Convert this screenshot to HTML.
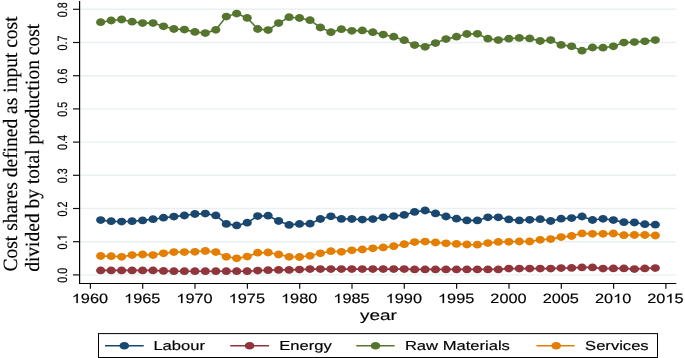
<!DOCTYPE html>
<html><head><meta charset="utf-8"><style>
html,body{margin:0;padding:0;background:#fff;}
svg{display:block;will-change:transform;text-rendering:geometricPrecision;}
.t{font-family:"Liberation Sans",sans-serif;fill:#000;}
.s{font-family:"Liberation Serif",serif;fill:#000;}
.h1{fill:none;stroke:none;}
</style></head><body>
<svg width="685" height="358" viewBox="0 0 685 358">
<rect width="685" height="358" fill="#fff"/>
<line x1="80.5" x2="676.3" y1="274.9" y2="274.9" stroke="#eaf0f2" stroke-width="1.4"/>
<line x1="80.5" x2="676.3" y1="241.7" y2="241.7" stroke="#eaf0f2" stroke-width="1.4"/>
<line x1="80.5" x2="676.3" y1="208.5" y2="208.5" stroke="#eaf0f2" stroke-width="1.4"/>
<line x1="80.5" x2="676.3" y1="175.3" y2="175.3" stroke="#eaf0f2" stroke-width="1.4"/>
<line x1="80.5" x2="676.3" y1="142.1" y2="142.1" stroke="#eaf0f2" stroke-width="1.4"/>
<line x1="80.5" x2="676.3" y1="108.9" y2="108.9" stroke="#eaf0f2" stroke-width="1.4"/>
<line x1="80.5" x2="676.3" y1="75.7" y2="75.7" stroke="#eaf0f2" stroke-width="1.4"/>
<line x1="80.5" x2="676.3" y1="42.5" y2="42.5" stroke="#eaf0f2" stroke-width="1.4"/>
<line x1="80.5" x2="676.3" y1="9.3" y2="9.3" stroke="#eaf0f2" stroke-width="1.4"/>
<line x1="79.6" x2="79.6" y1="1" y2="284.1" stroke="#000" stroke-width="1.2"/>
<line x1="79.0" x2="676.3" y1="283.5" y2="283.5" stroke="#000" stroke-width="1.2"/>
<line x1="73" x2="79.6" y1="274.9" y2="274.9" stroke="#111" stroke-width="1.2"/>
<text class="t" transform="translate(66.70,275.30) rotate(-90) scale(1.0000,1.2600)" font-size="10.8" text-anchor="middle" stroke="#000" stroke-width="0.15">0.0</text>
<line x1="73" x2="79.6" y1="241.7" y2="241.7" stroke="#111" stroke-width="1.2"/>
<text class="t" transform="translate(66.70,242.10) rotate(-90) scale(1.0000,1.2600)" font-size="10.8" text-anchor="middle" stroke="#000" stroke-width="0.15">0.<tspan class="h1">1</tspan></text><g transform="translate(66.70,242.10) rotate(-90) scale(1.0000,1.2600) scale(0.005273,-0.005273)" stroke="#000" stroke-width="28.4"><path transform="translate(284.5,0)" d="M763 0L583 0L583 1102Q518 1040 412 978Q306 916 223 895L223 1061Q376 1133 491 1235Q606 1337 651 1409L763 1409Z"/></g>
<line x1="73" x2="79.6" y1="208.5" y2="208.5" stroke="#111" stroke-width="1.2"/>
<text class="t" transform="translate(66.70,208.90) rotate(-90) scale(1.0000,1.2600)" font-size="10.8" text-anchor="middle" stroke="#000" stroke-width="0.15">0.2</text>
<line x1="73" x2="79.6" y1="175.3" y2="175.3" stroke="#111" stroke-width="1.2"/>
<text class="t" transform="translate(66.70,175.70) rotate(-90) scale(1.0000,1.2600)" font-size="10.8" text-anchor="middle" stroke="#000" stroke-width="0.15">0.3</text>
<line x1="73" x2="79.6" y1="142.1" y2="142.1" stroke="#111" stroke-width="1.2"/>
<text class="t" transform="translate(66.70,142.50) rotate(-90) scale(1.0000,1.2600)" font-size="10.8" text-anchor="middle" stroke="#000" stroke-width="0.15">0.4</text>
<line x1="73" x2="79.6" y1="108.9" y2="108.9" stroke="#111" stroke-width="1.2"/>
<text class="t" transform="translate(66.70,109.30) rotate(-90) scale(1.0000,1.2600)" font-size="10.8" text-anchor="middle" stroke="#000" stroke-width="0.15">0.5</text>
<line x1="73" x2="79.6" y1="75.7" y2="75.7" stroke="#111" stroke-width="1.2"/>
<text class="t" transform="translate(66.70,76.10) rotate(-90) scale(1.0000,1.2600)" font-size="10.8" text-anchor="middle" stroke="#000" stroke-width="0.15">0.6</text>
<line x1="73" x2="79.6" y1="42.5" y2="42.5" stroke="#111" stroke-width="1.2"/>
<text class="t" transform="translate(66.70,42.90) rotate(-90) scale(1.0000,1.2600)" font-size="10.8" text-anchor="middle" stroke="#000" stroke-width="0.15">0.7</text>
<line x1="73" x2="79.6" y1="9.3" y2="9.3" stroke="#111" stroke-width="1.2"/>
<text class="t" transform="translate(66.70,9.70) rotate(-90) scale(1.0000,1.2600)" font-size="10.8" text-anchor="middle" stroke="#000" stroke-width="0.15">0.8</text>
<line x1="90.4" x2="90.4" y1="283.5" y2="288.7" stroke="#111" stroke-width="1.2"/>
<text class="t" transform="translate(89.90,303.10) scale(1.2000,1.0000)" font-size="13.6" text-anchor="middle" stroke="#000" stroke-width="0.15"><tspan class="h1">1</tspan>960</text><g transform="translate(89.90,303.10) scale(1.2000,1.0000) scale(0.006641,-0.006641)" stroke="#000" stroke-width="22.6"><path transform="translate(-2278.0,0)" d="M763 0L583 0L583 1102Q518 1040 412 978Q306 916 223 895L223 1061Q376 1133 491 1235Q606 1337 651 1409L763 1409Z"/></g>
<line x1="142.7" x2="142.7" y1="283.5" y2="288.7" stroke="#111" stroke-width="1.2"/>
<text class="t" transform="translate(142.22,303.10) scale(1.2000,1.0000)" font-size="13.6" text-anchor="middle" stroke="#000" stroke-width="0.15"><tspan class="h1">1</tspan>965</text><g transform="translate(142.22,303.10) scale(1.2000,1.0000) scale(0.006641,-0.006641)" stroke="#000" stroke-width="22.6"><path transform="translate(-2278.0,0)" d="M763 0L583 0L583 1102Q518 1040 412 978Q306 916 223 895L223 1061Q376 1133 491 1235Q606 1337 651 1409L763 1409Z"/></g>
<line x1="195.0" x2="195.0" y1="283.5" y2="288.7" stroke="#111" stroke-width="1.2"/>
<text class="t" transform="translate(194.54,303.10) scale(1.2000,1.0000)" font-size="13.6" text-anchor="middle" stroke="#000" stroke-width="0.15"><tspan class="h1">1</tspan>970</text><g transform="translate(194.54,303.10) scale(1.2000,1.0000) scale(0.006641,-0.006641)" stroke="#000" stroke-width="22.6"><path transform="translate(-2278.0,0)" d="M763 0L583 0L583 1102Q518 1040 412 978Q306 916 223 895L223 1061Q376 1133 491 1235Q606 1337 651 1409L763 1409Z"/></g>
<line x1="247.4" x2="247.4" y1="283.5" y2="288.7" stroke="#111" stroke-width="1.2"/>
<text class="t" transform="translate(246.86,303.10) scale(1.2000,1.0000)" font-size="13.6" text-anchor="middle" stroke="#000" stroke-width="0.15"><tspan class="h1">1</tspan>975</text><g transform="translate(246.86,303.10) scale(1.2000,1.0000) scale(0.006641,-0.006641)" stroke="#000" stroke-width="22.6"><path transform="translate(-2278.0,0)" d="M763 0L583 0L583 1102Q518 1040 412 978Q306 916 223 895L223 1061Q376 1133 491 1235Q606 1337 651 1409L763 1409Z"/></g>
<line x1="299.7" x2="299.7" y1="283.5" y2="288.7" stroke="#111" stroke-width="1.2"/>
<text class="t" transform="translate(299.18,303.10) scale(1.2000,1.0000)" font-size="13.6" text-anchor="middle" stroke="#000" stroke-width="0.15"><tspan class="h1">1</tspan>980</text><g transform="translate(299.18,303.10) scale(1.2000,1.0000) scale(0.006641,-0.006641)" stroke="#000" stroke-width="22.6"><path transform="translate(-2278.0,0)" d="M763 0L583 0L583 1102Q518 1040 412 978Q306 916 223 895L223 1061Q376 1133 491 1235Q606 1337 651 1409L763 1409Z"/></g>
<line x1="352.0" x2="352.0" y1="283.5" y2="288.7" stroke="#111" stroke-width="1.2"/>
<text class="t" transform="translate(351.50,303.10) scale(1.2000,1.0000)" font-size="13.6" text-anchor="middle" stroke="#000" stroke-width="0.15"><tspan class="h1">1</tspan>985</text><g transform="translate(351.50,303.10) scale(1.2000,1.0000) scale(0.006641,-0.006641)" stroke="#000" stroke-width="22.6"><path transform="translate(-2278.0,0)" d="M763 0L583 0L583 1102Q518 1040 412 978Q306 916 223 895L223 1061Q376 1133 491 1235Q606 1337 651 1409L763 1409Z"/></g>
<line x1="404.3" x2="404.3" y1="283.5" y2="288.7" stroke="#111" stroke-width="1.2"/>
<text class="t" transform="translate(403.82,303.10) scale(1.2000,1.0000)" font-size="13.6" text-anchor="middle" stroke="#000" stroke-width="0.15"><tspan class="h1">1</tspan>990</text><g transform="translate(403.82,303.10) scale(1.2000,1.0000) scale(0.006641,-0.006641)" stroke="#000" stroke-width="22.6"><path transform="translate(-2278.0,0)" d="M763 0L583 0L583 1102Q518 1040 412 978Q306 916 223 895L223 1061Q376 1133 491 1235Q606 1337 651 1409L763 1409Z"/></g>
<line x1="456.6" x2="456.6" y1="283.5" y2="288.7" stroke="#111" stroke-width="1.2"/>
<text class="t" transform="translate(456.14,303.10) scale(1.2000,1.0000)" font-size="13.6" text-anchor="middle" stroke="#000" stroke-width="0.15"><tspan class="h1">1</tspan>995</text><g transform="translate(456.14,303.10) scale(1.2000,1.0000) scale(0.006641,-0.006641)" stroke="#000" stroke-width="22.6"><path transform="translate(-2278.0,0)" d="M763 0L583 0L583 1102Q518 1040 412 978Q306 916 223 895L223 1061Q376 1133 491 1235Q606 1337 651 1409L763 1409Z"/></g>
<line x1="509.0" x2="509.0" y1="283.5" y2="288.7" stroke="#111" stroke-width="1.2"/>
<text class="t" transform="translate(508.46,303.10) scale(1.2000,1.0000)" font-size="13.6" text-anchor="middle" stroke="#000" stroke-width="0.15">2000</text>
<line x1="561.3" x2="561.3" y1="283.5" y2="288.7" stroke="#111" stroke-width="1.2"/>
<text class="t" transform="translate(560.78,303.10) scale(1.2000,1.0000)" font-size="13.6" text-anchor="middle" stroke="#000" stroke-width="0.15">2005</text>
<line x1="613.6" x2="613.6" y1="283.5" y2="288.7" stroke="#111" stroke-width="1.2"/>
<text class="t" transform="translate(613.10,303.10) scale(1.2000,1.0000)" font-size="13.6" text-anchor="middle" stroke="#000" stroke-width="0.15">20<tspan class="h1">1</tspan>0</text><g transform="translate(613.10,303.10) scale(1.2000,1.0000) scale(0.006641,-0.006641)" stroke="#000" stroke-width="22.6"><path transform="translate(0.0,0)" d="M763 0L583 0L583 1102Q518 1040 412 978Q306 916 223 895L223 1061Q376 1133 491 1235Q606 1337 651 1409L763 1409Z"/></g>
<line x1="665.9" x2="665.9" y1="283.5" y2="288.7" stroke="#111" stroke-width="1.2"/>
<text class="t" transform="translate(665.42,303.10) scale(1.2000,1.0000)" font-size="13.6" text-anchor="middle" stroke="#000" stroke-width="0.15">20<tspan class="h1">1</tspan>5</text><g transform="translate(665.42,303.10) scale(1.2000,1.0000) scale(0.006641,-0.006641)" stroke="#000" stroke-width="22.6"><path transform="translate(0.0,0)" d="M763 0L583 0L583 1102Q518 1040 412 978Q306 916 223 895L223 1061Q376 1133 491 1235Q606 1337 651 1409L763 1409Z"/></g>
<text class="t" transform="translate(378.40,319.80) scale(1.3370,1.0000)" font-size="14.2" text-anchor="middle" stroke="#000" stroke-width="0.15">year</text>
<text class="s" transform="translate(17.00,271.50) rotate(-90) scale(1.0000,1.0400)" font-size="19.5" stroke="#000" stroke-width="0.15">Cost shares defined as input cost</text>
<text class="s" transform="translate(38.70,271.80) rotate(-90) scale(1.0000,1.0400)" font-size="19.5" stroke="#000" stroke-width="0.15">divided by total production cost</text>
<polyline points="100.7,270.4 111.2,270.4 121.6,270.4 132.1,270.4 142.6,270.4 153.0,270.4 163.5,270.9 173.9,271.2 184.4,271.2 194.9,271.2 205.3,271.2 215.8,271.2 226.3,271.2 236.7,271.2 247.2,271.2 257.7,270.6 268.1,270.2 278.6,269.9 289.1,269.9 299.5,269.6 310.0,269.1 320.4,269.1 330.9,269.1 341.4,269.1 351.8,269.1 362.3,269.1 372.8,269.1 383.2,269.1 393.7,269.1 404.2,269.1 414.6,269.4 425.1,269.4 435.5,269.4 446.0,269.4 456.5,269.4 466.9,269.4 477.4,269.4 487.9,269.4 498.3,269.4 508.8,268.6 519.3,268.6 529.7,268.6 540.2,268.6 550.7,268.6 561.1,268.1 571.6,267.9 582.0,267.4 592.5,267.4 603.0,268.6 613.4,268.4 623.9,268.4 634.4,269.1 644.8,268.4 655.3,268.1" fill="none" stroke="#90353b" stroke-width="1.6"/>
<g fill="#90353b"><ellipse cx="100.7" cy="270.4" rx="4.6" ry="3.9"/><ellipse cx="111.2" cy="270.4" rx="4.6" ry="3.9"/><ellipse cx="121.6" cy="270.4" rx="4.6" ry="3.9"/><ellipse cx="132.1" cy="270.4" rx="4.6" ry="3.9"/><ellipse cx="142.6" cy="270.4" rx="4.6" ry="3.9"/><ellipse cx="153.0" cy="270.4" rx="4.6" ry="3.9"/><ellipse cx="163.5" cy="270.9" rx="4.6" ry="3.9"/><ellipse cx="173.9" cy="271.2" rx="4.6" ry="3.9"/><ellipse cx="184.4" cy="271.2" rx="4.6" ry="3.9"/><ellipse cx="194.9" cy="271.2" rx="4.6" ry="3.9"/><ellipse cx="205.3" cy="271.2" rx="4.6" ry="3.9"/><ellipse cx="215.8" cy="271.2" rx="4.6" ry="3.9"/><ellipse cx="226.3" cy="271.2" rx="4.6" ry="3.9"/><ellipse cx="236.7" cy="271.2" rx="4.6" ry="3.9"/><ellipse cx="247.2" cy="271.2" rx="4.6" ry="3.9"/><ellipse cx="257.7" cy="270.6" rx="4.6" ry="3.9"/><ellipse cx="268.1" cy="270.2" rx="4.6" ry="3.9"/><ellipse cx="278.6" cy="269.9" rx="4.6" ry="3.9"/><ellipse cx="289.1" cy="269.9" rx="4.6" ry="3.9"/><ellipse cx="299.5" cy="269.6" rx="4.6" ry="3.9"/><ellipse cx="310.0" cy="269.1" rx="4.6" ry="3.9"/><ellipse cx="320.4" cy="269.1" rx="4.6" ry="3.9"/><ellipse cx="330.9" cy="269.1" rx="4.6" ry="3.9"/><ellipse cx="341.4" cy="269.1" rx="4.6" ry="3.9"/><ellipse cx="351.8" cy="269.1" rx="4.6" ry="3.9"/><ellipse cx="362.3" cy="269.1" rx="4.6" ry="3.9"/><ellipse cx="372.8" cy="269.1" rx="4.6" ry="3.9"/><ellipse cx="383.2" cy="269.1" rx="4.6" ry="3.9"/><ellipse cx="393.7" cy="269.1" rx="4.6" ry="3.9"/><ellipse cx="404.2" cy="269.1" rx="4.6" ry="3.9"/><ellipse cx="414.6" cy="269.4" rx="4.6" ry="3.9"/><ellipse cx="425.1" cy="269.4" rx="4.6" ry="3.9"/><ellipse cx="435.5" cy="269.4" rx="4.6" ry="3.9"/><ellipse cx="446.0" cy="269.4" rx="4.6" ry="3.9"/><ellipse cx="456.5" cy="269.4" rx="4.6" ry="3.9"/><ellipse cx="466.9" cy="269.4" rx="4.6" ry="3.9"/><ellipse cx="477.4" cy="269.4" rx="4.6" ry="3.9"/><ellipse cx="487.9" cy="269.4" rx="4.6" ry="3.9"/><ellipse cx="498.3" cy="269.4" rx="4.6" ry="3.9"/><ellipse cx="508.8" cy="268.6" rx="4.6" ry="3.9"/><ellipse cx="519.3" cy="268.6" rx="4.6" ry="3.9"/><ellipse cx="529.7" cy="268.6" rx="4.6" ry="3.9"/><ellipse cx="540.2" cy="268.6" rx="4.6" ry="3.9"/><ellipse cx="550.7" cy="268.6" rx="4.6" ry="3.9"/><ellipse cx="561.1" cy="268.1" rx="4.6" ry="3.9"/><ellipse cx="571.6" cy="267.9" rx="4.6" ry="3.9"/><ellipse cx="582.0" cy="267.4" rx="4.6" ry="3.9"/><ellipse cx="592.5" cy="267.4" rx="4.6" ry="3.9"/><ellipse cx="603.0" cy="268.6" rx="4.6" ry="3.9"/><ellipse cx="613.4" cy="268.4" rx="4.6" ry="3.9"/><ellipse cx="623.9" cy="268.4" rx="4.6" ry="3.9"/><ellipse cx="634.4" cy="269.1" rx="4.6" ry="3.9"/><ellipse cx="644.8" cy="268.4" rx="4.6" ry="3.9"/><ellipse cx="655.3" cy="268.1" rx="4.6" ry="3.9"/></g>

<polyline points="100.7,256.0 111.2,256.2 121.6,256.8 132.1,255.1 142.6,254.5 153.0,255.1 163.5,253.3 173.9,252.1 184.4,252.1 194.9,251.8 205.3,251.0 215.8,252.1 226.3,256.8 236.7,258.3 247.2,256.6 257.7,252.7 268.1,252.5 278.6,254.5 289.1,256.8 299.5,257.0 310.0,255.8 320.4,253.3 330.9,251.2 341.4,251.8 351.8,250.3 362.3,249.5 372.8,248.3 383.2,247.4 393.7,246.2 404.2,244.2 414.6,242.1 425.1,241.6 435.5,242.5 446.0,243.3 456.5,243.9 466.9,244.5 477.4,244.7 487.9,243.1 498.3,241.9 508.8,241.8 519.3,241.5 529.7,241.5 540.2,239.8 550.7,239.1 561.1,237.1 571.6,236.0 582.0,233.4 592.5,233.8 603.0,233.8 613.4,233.5 623.9,235.2 634.4,235.0 644.8,235.0 655.3,235.5" fill="none" stroke="#e37e00" stroke-width="1.6"/>
<g fill="#e37e00"><ellipse cx="100.7" cy="256.0" rx="4.6" ry="3.9"/><ellipse cx="111.2" cy="256.2" rx="4.6" ry="3.9"/><ellipse cx="121.6" cy="256.8" rx="4.6" ry="3.9"/><ellipse cx="132.1" cy="255.1" rx="4.6" ry="3.9"/><ellipse cx="142.6" cy="254.5" rx="4.6" ry="3.9"/><ellipse cx="153.0" cy="255.1" rx="4.6" ry="3.9"/><ellipse cx="163.5" cy="253.3" rx="4.6" ry="3.9"/><ellipse cx="173.9" cy="252.1" rx="4.6" ry="3.9"/><ellipse cx="184.4" cy="252.1" rx="4.6" ry="3.9"/><ellipse cx="194.9" cy="251.8" rx="4.6" ry="3.9"/><ellipse cx="205.3" cy="251.0" rx="4.6" ry="3.9"/><ellipse cx="215.8" cy="252.1" rx="4.6" ry="3.9"/><ellipse cx="226.3" cy="256.8" rx="4.6" ry="3.9"/><ellipse cx="236.7" cy="258.3" rx="4.6" ry="3.9"/><ellipse cx="247.2" cy="256.6" rx="4.6" ry="3.9"/><ellipse cx="257.7" cy="252.7" rx="4.6" ry="3.9"/><ellipse cx="268.1" cy="252.5" rx="4.6" ry="3.9"/><ellipse cx="278.6" cy="254.5" rx="4.6" ry="3.9"/><ellipse cx="289.1" cy="256.8" rx="4.6" ry="3.9"/><ellipse cx="299.5" cy="257.0" rx="4.6" ry="3.9"/><ellipse cx="310.0" cy="255.8" rx="4.6" ry="3.9"/><ellipse cx="320.4" cy="253.3" rx="4.6" ry="3.9"/><ellipse cx="330.9" cy="251.2" rx="4.6" ry="3.9"/><ellipse cx="341.4" cy="251.8" rx="4.6" ry="3.9"/><ellipse cx="351.8" cy="250.3" rx="4.6" ry="3.9"/><ellipse cx="362.3" cy="249.5" rx="4.6" ry="3.9"/><ellipse cx="372.8" cy="248.3" rx="4.6" ry="3.9"/><ellipse cx="383.2" cy="247.4" rx="4.6" ry="3.9"/><ellipse cx="393.7" cy="246.2" rx="4.6" ry="3.9"/><ellipse cx="404.2" cy="244.2" rx="4.6" ry="3.9"/><ellipse cx="414.6" cy="242.1" rx="4.6" ry="3.9"/><ellipse cx="425.1" cy="241.6" rx="4.6" ry="3.9"/><ellipse cx="435.5" cy="242.5" rx="4.6" ry="3.9"/><ellipse cx="446.0" cy="243.3" rx="4.6" ry="3.9"/><ellipse cx="456.5" cy="243.9" rx="4.6" ry="3.9"/><ellipse cx="466.9" cy="244.5" rx="4.6" ry="3.9"/><ellipse cx="477.4" cy="244.7" rx="4.6" ry="3.9"/><ellipse cx="487.9" cy="243.1" rx="4.6" ry="3.9"/><ellipse cx="498.3" cy="241.9" rx="4.6" ry="3.9"/><ellipse cx="508.8" cy="241.8" rx="4.6" ry="3.9"/><ellipse cx="519.3" cy="241.5" rx="4.6" ry="3.9"/><ellipse cx="529.7" cy="241.5" rx="4.6" ry="3.9"/><ellipse cx="540.2" cy="239.8" rx="4.6" ry="3.9"/><ellipse cx="550.7" cy="239.1" rx="4.6" ry="3.9"/><ellipse cx="561.1" cy="237.1" rx="4.6" ry="3.9"/><ellipse cx="571.6" cy="236.0" rx="4.6" ry="3.9"/><ellipse cx="582.0" cy="233.4" rx="4.6" ry="3.9"/><ellipse cx="592.5" cy="233.8" rx="4.6" ry="3.9"/><ellipse cx="603.0" cy="233.8" rx="4.6" ry="3.9"/><ellipse cx="613.4" cy="233.5" rx="4.6" ry="3.9"/><ellipse cx="623.9" cy="235.2" rx="4.6" ry="3.9"/><ellipse cx="634.4" cy="235.0" rx="4.6" ry="3.9"/><ellipse cx="644.8" cy="235.0" rx="4.6" ry="3.9"/><ellipse cx="655.3" cy="235.5" rx="4.6" ry="3.9"/></g>

<polyline points="100.7,220.1 111.2,221.2 121.6,221.6 132.1,221.2 142.6,220.4 153.0,219.2 163.5,217.7 173.9,216.6 184.4,215.5 194.9,214.0 205.3,213.6 215.8,215.4 226.3,223.9 236.7,225.4 247.2,222.7 257.7,216.1 268.1,215.7 278.6,221.0 289.1,224.9 299.5,223.9 310.0,223.7 320.4,219.0 330.9,216.3 341.4,218.9 351.8,219.0 362.3,219.6 372.8,219.1 383.2,217.3 393.7,216.1 404.2,214.9 414.6,211.9 425.1,210.5 435.5,213.4 446.0,216.5 456.5,218.7 466.9,220.4 477.4,220.4 487.9,217.3 498.3,217.3 508.8,219.4 519.3,220.4 529.7,219.8 540.2,219.2 550.7,221.0 561.1,218.7 571.6,218.1 582.0,216.5 592.5,220.0 603.0,218.8 613.4,220.1 623.9,222.2 634.4,222.5 644.8,224.2 655.3,224.7" fill="none" stroke="#1a476f" stroke-width="1.6"/>
<g fill="#1a476f"><ellipse cx="100.7" cy="220.1" rx="4.6" ry="3.9"/><ellipse cx="111.2" cy="221.2" rx="4.6" ry="3.9"/><ellipse cx="121.6" cy="221.6" rx="4.6" ry="3.9"/><ellipse cx="132.1" cy="221.2" rx="4.6" ry="3.9"/><ellipse cx="142.6" cy="220.4" rx="4.6" ry="3.9"/><ellipse cx="153.0" cy="219.2" rx="4.6" ry="3.9"/><ellipse cx="163.5" cy="217.7" rx="4.6" ry="3.9"/><ellipse cx="173.9" cy="216.6" rx="4.6" ry="3.9"/><ellipse cx="184.4" cy="215.5" rx="4.6" ry="3.9"/><ellipse cx="194.9" cy="214.0" rx="4.6" ry="3.9"/><ellipse cx="205.3" cy="213.6" rx="4.6" ry="3.9"/><ellipse cx="215.8" cy="215.4" rx="4.6" ry="3.9"/><ellipse cx="226.3" cy="223.9" rx="4.6" ry="3.9"/><ellipse cx="236.7" cy="225.4" rx="4.6" ry="3.9"/><ellipse cx="247.2" cy="222.7" rx="4.6" ry="3.9"/><ellipse cx="257.7" cy="216.1" rx="4.6" ry="3.9"/><ellipse cx="268.1" cy="215.7" rx="4.6" ry="3.9"/><ellipse cx="278.6" cy="221.0" rx="4.6" ry="3.9"/><ellipse cx="289.1" cy="224.9" rx="4.6" ry="3.9"/><ellipse cx="299.5" cy="223.9" rx="4.6" ry="3.9"/><ellipse cx="310.0" cy="223.7" rx="4.6" ry="3.9"/><ellipse cx="320.4" cy="219.0" rx="4.6" ry="3.9"/><ellipse cx="330.9" cy="216.3" rx="4.6" ry="3.9"/><ellipse cx="341.4" cy="218.9" rx="4.6" ry="3.9"/><ellipse cx="351.8" cy="219.0" rx="4.6" ry="3.9"/><ellipse cx="362.3" cy="219.6" rx="4.6" ry="3.9"/><ellipse cx="372.8" cy="219.1" rx="4.6" ry="3.9"/><ellipse cx="383.2" cy="217.3" rx="4.6" ry="3.9"/><ellipse cx="393.7" cy="216.1" rx="4.6" ry="3.9"/><ellipse cx="404.2" cy="214.9" rx="4.6" ry="3.9"/><ellipse cx="414.6" cy="211.9" rx="4.6" ry="3.9"/><ellipse cx="425.1" cy="210.5" rx="4.6" ry="3.9"/><ellipse cx="435.5" cy="213.4" rx="4.6" ry="3.9"/><ellipse cx="446.0" cy="216.5" rx="4.6" ry="3.9"/><ellipse cx="456.5" cy="218.7" rx="4.6" ry="3.9"/><ellipse cx="466.9" cy="220.4" rx="4.6" ry="3.9"/><ellipse cx="477.4" cy="220.4" rx="4.6" ry="3.9"/><ellipse cx="487.9" cy="217.3" rx="4.6" ry="3.9"/><ellipse cx="498.3" cy="217.3" rx="4.6" ry="3.9"/><ellipse cx="508.8" cy="219.4" rx="4.6" ry="3.9"/><ellipse cx="519.3" cy="220.4" rx="4.6" ry="3.9"/><ellipse cx="529.7" cy="219.8" rx="4.6" ry="3.9"/><ellipse cx="540.2" cy="219.2" rx="4.6" ry="3.9"/><ellipse cx="550.7" cy="221.0" rx="4.6" ry="3.9"/><ellipse cx="561.1" cy="218.7" rx="4.6" ry="3.9"/><ellipse cx="571.6" cy="218.1" rx="4.6" ry="3.9"/><ellipse cx="582.0" cy="216.5" rx="4.6" ry="3.9"/><ellipse cx="592.5" cy="220.0" rx="4.6" ry="3.9"/><ellipse cx="603.0" cy="218.8" rx="4.6" ry="3.9"/><ellipse cx="613.4" cy="220.1" rx="4.6" ry="3.9"/><ellipse cx="623.9" cy="222.2" rx="4.6" ry="3.9"/><ellipse cx="634.4" cy="222.5" rx="4.6" ry="3.9"/><ellipse cx="644.8" cy="224.2" rx="4.6" ry="3.9"/><ellipse cx="655.3" cy="224.7" rx="4.6" ry="3.9"/></g>

<polyline points="100.7,22.2 111.2,20.5 121.6,19.5 132.1,21.7 142.6,23.1 153.0,23.1 163.5,26.3 173.9,29.0 184.4,29.6 194.9,31.9 205.3,33.1 215.8,29.8 226.3,16.6 236.7,13.6 247.2,17.9 257.7,29.0 268.1,30.1 278.6,23.1 289.1,17.2 299.5,18.0 310.0,20.2 320.4,27.5 330.9,32.2 341.4,29.2 351.8,30.8 362.3,30.4 372.8,32.2 383.2,34.6 393.7,36.7 404.2,40.2 414.6,45.1 425.1,46.8 435.5,43.1 446.0,39.1 456.5,36.7 466.9,34.0 477.4,33.8 487.9,38.7 498.3,40.1 508.8,38.7 519.3,37.9 529.7,38.4 540.2,41.0 550.7,40.1 561.1,44.9 571.6,46.3 582.0,50.7 592.5,47.5 603.0,47.7 613.4,46.3 623.9,42.6 634.4,42.1 644.8,41.3 655.3,40.1" fill="none" stroke="#55752f" stroke-width="1.6"/>
<g fill="#55752f"><ellipse cx="100.7" cy="22.2" rx="4.6" ry="3.9"/><ellipse cx="111.2" cy="20.5" rx="4.6" ry="3.9"/><ellipse cx="121.6" cy="19.5" rx="4.6" ry="3.9"/><ellipse cx="132.1" cy="21.7" rx="4.6" ry="3.9"/><ellipse cx="142.6" cy="23.1" rx="4.6" ry="3.9"/><ellipse cx="153.0" cy="23.1" rx="4.6" ry="3.9"/><ellipse cx="163.5" cy="26.3" rx="4.6" ry="3.9"/><ellipse cx="173.9" cy="29.0" rx="4.6" ry="3.9"/><ellipse cx="184.4" cy="29.6" rx="4.6" ry="3.9"/><ellipse cx="194.9" cy="31.9" rx="4.6" ry="3.9"/><ellipse cx="205.3" cy="33.1" rx="4.6" ry="3.9"/><ellipse cx="215.8" cy="29.8" rx="4.6" ry="3.9"/><ellipse cx="226.3" cy="16.6" rx="4.6" ry="3.9"/><ellipse cx="236.7" cy="13.6" rx="4.6" ry="3.9"/><ellipse cx="247.2" cy="17.9" rx="4.6" ry="3.9"/><ellipse cx="257.7" cy="29.0" rx="4.6" ry="3.9"/><ellipse cx="268.1" cy="30.1" rx="4.6" ry="3.9"/><ellipse cx="278.6" cy="23.1" rx="4.6" ry="3.9"/><ellipse cx="289.1" cy="17.2" rx="4.6" ry="3.9"/><ellipse cx="299.5" cy="18.0" rx="4.6" ry="3.9"/><ellipse cx="310.0" cy="20.2" rx="4.6" ry="3.9"/><ellipse cx="320.4" cy="27.5" rx="4.6" ry="3.9"/><ellipse cx="330.9" cy="32.2" rx="4.6" ry="3.9"/><ellipse cx="341.4" cy="29.2" rx="4.6" ry="3.9"/><ellipse cx="351.8" cy="30.8" rx="4.6" ry="3.9"/><ellipse cx="362.3" cy="30.4" rx="4.6" ry="3.9"/><ellipse cx="372.8" cy="32.2" rx="4.6" ry="3.9"/><ellipse cx="383.2" cy="34.6" rx="4.6" ry="3.9"/><ellipse cx="393.7" cy="36.7" rx="4.6" ry="3.9"/><ellipse cx="404.2" cy="40.2" rx="4.6" ry="3.9"/><ellipse cx="414.6" cy="45.1" rx="4.6" ry="3.9"/><ellipse cx="425.1" cy="46.8" rx="4.6" ry="3.9"/><ellipse cx="435.5" cy="43.1" rx="4.6" ry="3.9"/><ellipse cx="446.0" cy="39.1" rx="4.6" ry="3.9"/><ellipse cx="456.5" cy="36.7" rx="4.6" ry="3.9"/><ellipse cx="466.9" cy="34.0" rx="4.6" ry="3.9"/><ellipse cx="477.4" cy="33.8" rx="4.6" ry="3.9"/><ellipse cx="487.9" cy="38.7" rx="4.6" ry="3.9"/><ellipse cx="498.3" cy="40.1" rx="4.6" ry="3.9"/><ellipse cx="508.8" cy="38.7" rx="4.6" ry="3.9"/><ellipse cx="519.3" cy="37.9" rx="4.6" ry="3.9"/><ellipse cx="529.7" cy="38.4" rx="4.6" ry="3.9"/><ellipse cx="540.2" cy="41.0" rx="4.6" ry="3.9"/><ellipse cx="550.7" cy="40.1" rx="4.6" ry="3.9"/><ellipse cx="561.1" cy="44.9" rx="4.6" ry="3.9"/><ellipse cx="571.6" cy="46.3" rx="4.6" ry="3.9"/><ellipse cx="582.0" cy="50.7" rx="4.6" ry="3.9"/><ellipse cx="592.5" cy="47.5" rx="4.6" ry="3.9"/><ellipse cx="603.0" cy="47.7" rx="4.6" ry="3.9"/><ellipse cx="613.4" cy="46.3" rx="4.6" ry="3.9"/><ellipse cx="623.9" cy="42.6" rx="4.6" ry="3.9"/><ellipse cx="634.4" cy="42.1" rx="4.6" ry="3.9"/><ellipse cx="644.8" cy="41.3" rx="4.6" ry="3.9"/><ellipse cx="655.3" cy="40.1" rx="4.6" ry="3.9"/></g>

<rect x="98.5" y="333.6" width="559" height="23.9" fill="#fff" stroke="#000" stroke-width="1"/>
<line x1="105.0" x2="143.7" y1="345.7" y2="345.7" stroke="#1a476f" stroke-width="1.5"/>
<ellipse cx="124.3" cy="345.7" rx="4.8" ry="3.8" fill="#1a476f"/>
<text class="t" transform="translate(153.40,350.20) scale(1.2750,1.0000)" font-size="13.0" stroke="#000" stroke-width="0.15">Labour</text>
<line x1="230.2" x2="269.0" y1="345.7" y2="345.7" stroke="#90353b" stroke-width="1.5"/>
<ellipse cx="249.6" cy="345.7" rx="4.8" ry="3.8" fill="#90353b"/>
<text class="t" transform="translate(279.20,350.20) scale(1.2750,1.0000)" font-size="13.0" stroke="#000" stroke-width="0.15">Energy</text>
<line x1="356.3" x2="394.6" y1="345.7" y2="345.7" stroke="#55752f" stroke-width="1.5"/>
<ellipse cx="375.5" cy="345.7" rx="4.8" ry="3.8" fill="#55752f"/>
<text class="t" transform="translate(404.90,350.20) scale(1.2750,1.0000)" font-size="13.0" stroke="#000" stroke-width="0.15">Raw Materials</text>
<line x1="536.5" x2="574.6" y1="345.7" y2="345.7" stroke="#e37e00" stroke-width="1.5"/>
<ellipse cx="556.2" cy="345.7" rx="4.8" ry="3.8" fill="#e37e00"/>
<text class="t" transform="translate(585.10,350.20) scale(1.2750,1.0000)" font-size="13.0" stroke="#000" stroke-width="0.15">Services</text>
</svg>
</body></html>
